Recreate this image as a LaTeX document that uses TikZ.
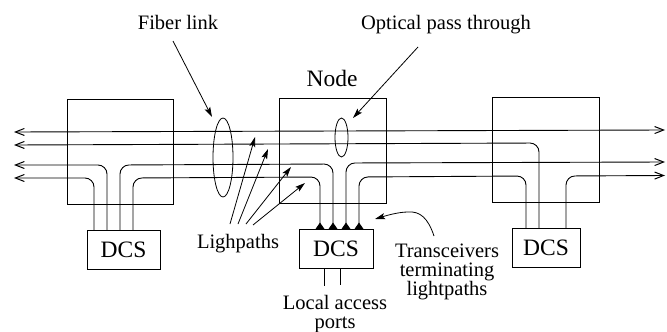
\documentclass[tikz,border=0pt]{standalone}
\usepackage{fontspec}
\setmainfont{Liberation Serif}
\usetikzlibrary{arrows.meta,shapes.geometric}
\tikzset{
  box/.style={draw,line width=.9pt,inner sep=0pt,minimum width=#1},
  dcsbox/.style={box=#1,minimum height=39pt,font=\fontsize{23.5pt}{26pt}\selectfont},
  fib/.style={line width=.9pt,rounded corners=9pt},
  lbl/.style={font=\fontsize{20.5pt}{22pt}\selectfont,align=center,inner sep=0pt},
  tipr/.style={-{Straight Barb[length=9pt,width=7pt,line width=1pt]}},
  tipl/.style={{Straight Barb[length=9pt,width=7pt,line width=1pt]}-{Straight Barb[length=9pt,width=7pt,line width=1pt]}},
  tipb/.style={-{Stealth[length=10pt,width=6pt,inset=2pt]},line width=.8pt},
  oval/.style={draw,ellipse,line width=.8pt,inner sep=0pt}
}
\begin{document}
\begin{tikzpicture}[x=1pt,y=-1pt]
\useasboundingbox (0,0) rectangle (667,332);
% nodes
\node[box=106pt,minimum height=105pt] (N1) at (120,151.5) {};
\node[box=107pt,minimum height=105pt] (N2) at (332.5,150.5) {};
\node[box=107pt,minimum height=105pt] (N3) at (545.5,149.5) {};
\node[dcsbox=73pt] (D1) at (123.5,249.5) {DCS};
\node[dcsbox=74pt] (D2) at (336,248.5) {DCS};
\node[dcsbox=68pt] (D3) at (546,248) {DCS};
% ends
\coordinate (La) at (14,132); \coordinate (Lb) at (14,145); \coordinate (Lc) at (14,165); \coordinate (Ld) at (14,178);
\coordinate (Ra) at (665,130); \coordinate (Rc) at (665,162); \coordinate (Rd) at (665,175.5);
% fibres
\draw[line width=.9pt,tipl] (Ra) -- (La);
\draw[fib,tipr] (539,228) -- (539,143) -- (Lb);
\draw[fib,tipr] (107,230) -- (107,165) -- (Lc);
\draw[fib,tipr] (94,230) -- (94,178) -- (Ld);
\draw[fib] (120,230) -- (120,165) -- (333,164) -- (333,229);
\draw[fib] (133,230) -- (133,178) -- (320,177) -- (320,229);
\draw[fib,tipr] (346,229) -- (346,163) -- (Rc);
\draw[fib] (359,229) -- (359,177) -- (526,176) -- (526,228);
\draw[fib,tipr] (566,228) -- (566,176) -- (Rd);
% terminators
\foreach \x in {320,333,346,359} \fill (\x-4.5,229) -- (\x,222.5) -- (\x+4.5,229) -- cycle;
% ellipses
\node[oval,minimum width=20pt,minimum height=79pt] (E1) at (223,157.5) {};
\node[oval,minimum width=13pt,minimum height=39pt] (E2) at (341.5,137.5) {};
% labels
\node[lbl] (Tf) at (178,22) {Fiber link};
\node[lbl] (To) at (446,25) {Optical pass through};
\node[lbl,font=\fontsize{23.5pt}{26pt}\selectfont] (Tn) at (332,78) {Node};
\node[lbl] (Tl) at (238,244) {Lighpaths};
\node[lbl,font=\fontsize{20.5pt}{18.5pt}\selectfont] (Tt) at (447,272) {Transceivers\\terminating\\lightpaths};
\node[lbl,font=\fontsize{20.5pt}{19pt}\selectfont] (Tp) at (335,314.5) {Local access\\ports};
% pointers
\coordinate (F0) at (173,41); \coordinate (O0) at (418,47);
\draw[tipb] (F0) -- (212,117);
\draw[tipb] (O0) -- (353,118);
\coordinate (L1) at (230,224); \coordinate (L2) at (238,224); \coordinate (L3) at (246,224); \coordinate (L4) at (253,225);
\draw[tipb] (L1) -- (255,137);
\draw[tipb] (L2) -- (268,149);
\draw[tipb] (L3) -- (291,167);
\draw[tipb] (L4) -- (305,183);
\coordinate (C0) at (434,236);
\draw[tipb] (C0) .. controls (428,218) and (420,211) .. (408,212) .. controls (398,212) and (385,216) .. (375,219);
% local access ports
\coordinate (P1) at (324,286); \coordinate (P2) at (340,285);
\draw[line width=.7pt] (D2.south -| P1) -- (P1);
\draw[line width=.7pt] (D2.south -| P2) -- (P2);
\end{tikzpicture}
\end{document}
